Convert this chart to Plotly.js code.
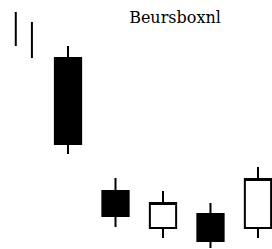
<!DOCTYPE html>
<html>
<head>
<meta charset="utf-8">
<script src="https://cdn.plot.ly/plotly-3.0.1.min.js"></script>
<style>html,body{margin:0;padding:0;background:#fff;}#chart{width:272px;height:249px;}</style>
</head>
<body>
<div id="chart"></div>
<script>
// Candles
const candleX = [1, 2, 3, 4, 5];
const openV  = [191, 58, 21, 35, 21];
const highV  = [203, 71, 58, 46, 82];
const lowV   = [95, 22, 11, 1, 11];
const closeV = [105, 33, 46, 8, 70];

// Two lone lines at the top left
const line1X = [-0.1, -0.1];
const line1Y = [237, 203];
const line2X = [0.24, 0.24];
const line2Y = [227, 191];

const titleText = 'Beursboxnl';

const traces = [
  {
    type: 'candlestick',
    x: candleX, open: openV, high: highV, low: lowV, close: closeV,
    increasing: {line: {color: '#000', width: 2}, fillcolor: '#fff'},
    decreasing: {line: {color: '#000', width: 2}, fillcolor: '#000'},
    whiskerwidth: 0,
    hoverinfo: 'none'
  },
  {type: 'scatter', mode: 'lines', x: line1X, y: line1Y, line: {color: '#000', width: 2}, hoverinfo: 'none'},
  {type: 'scatter', mode: 'lines', x: line2X, y: line2Y, line: {color: '#000', width: 2}, hoverinfo: 'none'}
];

const layout = {
  width: 272, height: 249,
  margin: {l: 0, r: 0, t: 0, b: 0},
  paper_bgcolor: '#fff', plot_bgcolor: '#fff',
  showlegend: false,
  boxgap: 0.21,
  title: {
    text: titleText,
    font: {family: 'DejaVu Serif', size: 16, color: '#000'},
    x: 175/272, xanchor: 'center', xref: 'paper',
    y: 1 - 17/249, yanchor: 'middle', yref: 'container'
  },
  xaxis: {range: [-0.432, 5.295], visible: false, fixedrange: true, rangeslider: {visible: false}},
  yaxis: {range: [0, 249], visible: false, fixedrange: true}
};

Plotly.newPlot('chart', traces, layout, {staticPlot: true, displayModeBar: false});
</script>
</body>
</html>
